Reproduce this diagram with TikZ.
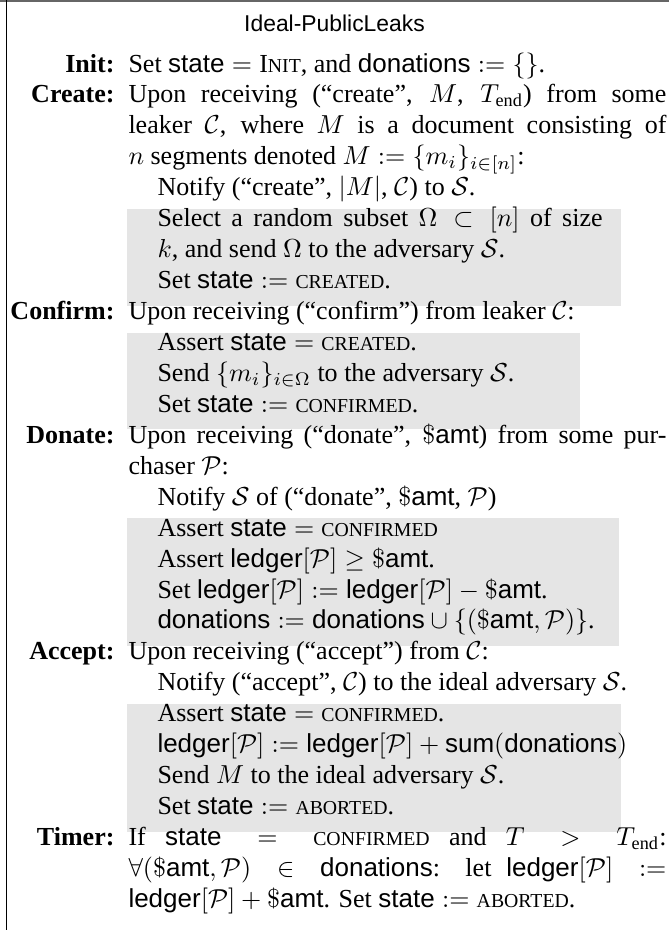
\documentclass[tikz,border=0pt]{standalone}
\usepackage{fontspec}
\setmainfont{Liberation Serif}
\setsansfont{Liberation Sans}
\newcommand\sv[1]{\mbox{\textsf{#1}}}
\newcommand\fsc[1]{{\fontsize{7.6}{9}\selectfont #1}}
\newcommand\smc[1]{\mbox{\fsc{#1}}}
\newcommand\amt{\$\sv{amt}}
\newcommand\jl[2]{\makebox[#1][s]{#2}}
\tikzset{
  lbl/.style={anchor=base east, inner sep=0pt, font=\bfseries},
  txt/.style={anchor=base west, inner sep=0pt},
  ttl/.style={anchor=base, inner sep=0pt, font=\sffamily\fontsize{8.8}{10}\selectfont},
  gbox/.style={fill=gray!20, draw=none},
  frameline/.style={line width=0.45pt, black}
}
\begin{document}
\begin{tikzpicture}[x=0.3846pt, y=-0.3846pt]
\useasboundingbox (0,0) rectangle (669,930);
% frame
\coordinate (tl) at (0,0.9);
\coordinate (tr) at (669,0.9);
\coordinate (lt) at (6.7,0);
\coordinate (lb) at (6.7,930);
\draw[line width=0.7pt, black!60] (tl) -- (tr);
\draw[frameline] (lt) -- (lb);
% gray boxes
\path[gbox] (127,208.7) rectangle (621,305.6);
\path[gbox] (127,332.5) rectangle (580,429.3);
\path[gbox] (127,518.1) rectangle (619,645.9);
\path[gbox] (127,703.7) rectangle (621,831.6);
% title
\node[ttl] (title) at (334.5,31) {Ideal-PublicLeaks};
% Init
\node[lbl] (linit) at (115,72.0) {Init:};
\node[txt] (t0) at (128,72.0) {Set $\sv{state} = \mbox{I\fsc{NIT}}$, and $\sv{donations} := \{\}$.};
% Create
\node[lbl] (lcreate) at (115,102.9) {Create:};
\node[txt] (t1) at (128,102.9) {\jl{206.9pt}{Upon receiving (“create”, $M$, $T_{\mathrm{end}}$) from some}};
\node[txt] (t2) at (128,133.9) {\jl{206.9pt}{leaker $\mathcal{C}$, where $M$ is a document consisting of}};
\node[txt] (t3) at (128,164.8) {$n$ segments denoted $M := \{m_i\}_{i\in[n]}$:};
\node[txt] (t4) at (157,195.8) {Notify (“create”, $|M|$, $\mathcal{C}$) to $\mathcal{S}$.};
\node[txt] (t5) at (157,226.7) {\jl{171.2pt}{Select a random subset $\Omega\subset[n]$ of size}};
\node[txt] (t6) at (157,257.6) {$k$, and send $\Omega$ to the adversary $\mathcal{S}$.};
\node[txt] (t7) at (157,288.6) {Set $\sv{state} := \smc{CREATED}$.};
% Confirm
\node[lbl] (lconfirm) at (115,319.5) {Confirm:};
\node[txt] (t8) at (128,319.5) {Upon receiving (“confirm”) from leaker $\mathcal{C}$:};
\node[txt] (t9) at (157,350.5) {Assert $\sv{state} = \smc{CREATED}$.};
\node[txt] (t10) at (157,381.4) {Send $\{m_i\}_{i\in\Omega}$ to the adversary $\mathcal{S}$.};
\node[txt] (t11) at (157,412.3) {Set $\sv{state} := \smc{CONFIRMED}$.};
% Donate
\node[lbl] (ldonate) at (115,443.3) {Donate:};
\node[txt] (t12) at (128,443.3) {\jl{206.9pt}{Upon receiving (“donate”, $\amt$) from some pur-}};
\node[txt] (t13) at (128,474.2) {chaser $\mathcal{P}$:};
\node[txt] (t14) at (157,505.2) {Notify $\mathcal{S}$ of (“donate”, $\amt$, $\mathcal{P}$)};
\node[txt] (t15) at (157,536.1) {Assert $\sv{state} = \smc{CONFIRMED}$};
\node[txt] (t16) at (157,567.0) {Assert $\sv{ledger}[\mathcal{P}] \geq \amt$.};
\node[txt] (t17) at (157,598.0) {Set $\sv{ledger}[\mathcal{P}] := \sv{ledger}[\mathcal{P}] - \amt$.};
\node[txt] (t18) at (157,628.9) {$\sv{donations} := \sv{donations} \cup \{(\amt, \mathcal{P})\}$.};
% Accept
\node[lbl] (laccept) at (115,659.9) {Accept:};
\node[txt] (t19) at (128,659.9) {Upon receiving (“accept”) from $\mathcal{C}$:};
\node[txt] (t20) at (157,690.8) {Notify (“accept”, $\mathcal{C}$) to the ideal adversary $\mathcal{S}$.};
\node[txt] (t21) at (157,721.7) {Assert $\sv{state} = \smc{CONFIRMED}$.};
\node[txt] (t22) at (157,752.7) {$\sv{ledger}[\mathcal{P}] := \sv{ledger}[\mathcal{P}] + \sv{sum}(\sv{donations})$};
\node[txt] (t23) at (157,783.6) {Send $M$ to the ideal adversary $\mathcal{S}$.};
\node[txt] (t24) at (157,814.6) {Set $\sv{state} := \smc{ABORTED}$.};
% Timer
\node[lbl] (ltimer) at (115,845.5) {Timer:};
\node[txt] (t25) at (128,845.5) {\jl{206.9pt}{If $\sv{state} = \smc{CONFIRMED}$ and $T > T_{\mathrm{end}}$:}};
\node[txt] (t26) at (128,876.4) {\jl{206.9pt}{$\forall(\amt, \mathcal{P}) \in \sv{donations}$: let $\sv{ledger}[\mathcal{P}] :=$}};
\node[txt] (t27) at (128,907.4) {$\sv{ledger}[\mathcal{P}] + \amt$. Set $\sv{state} := \smc{ABORTED}$.};
\end{tikzpicture}
\end{document}
